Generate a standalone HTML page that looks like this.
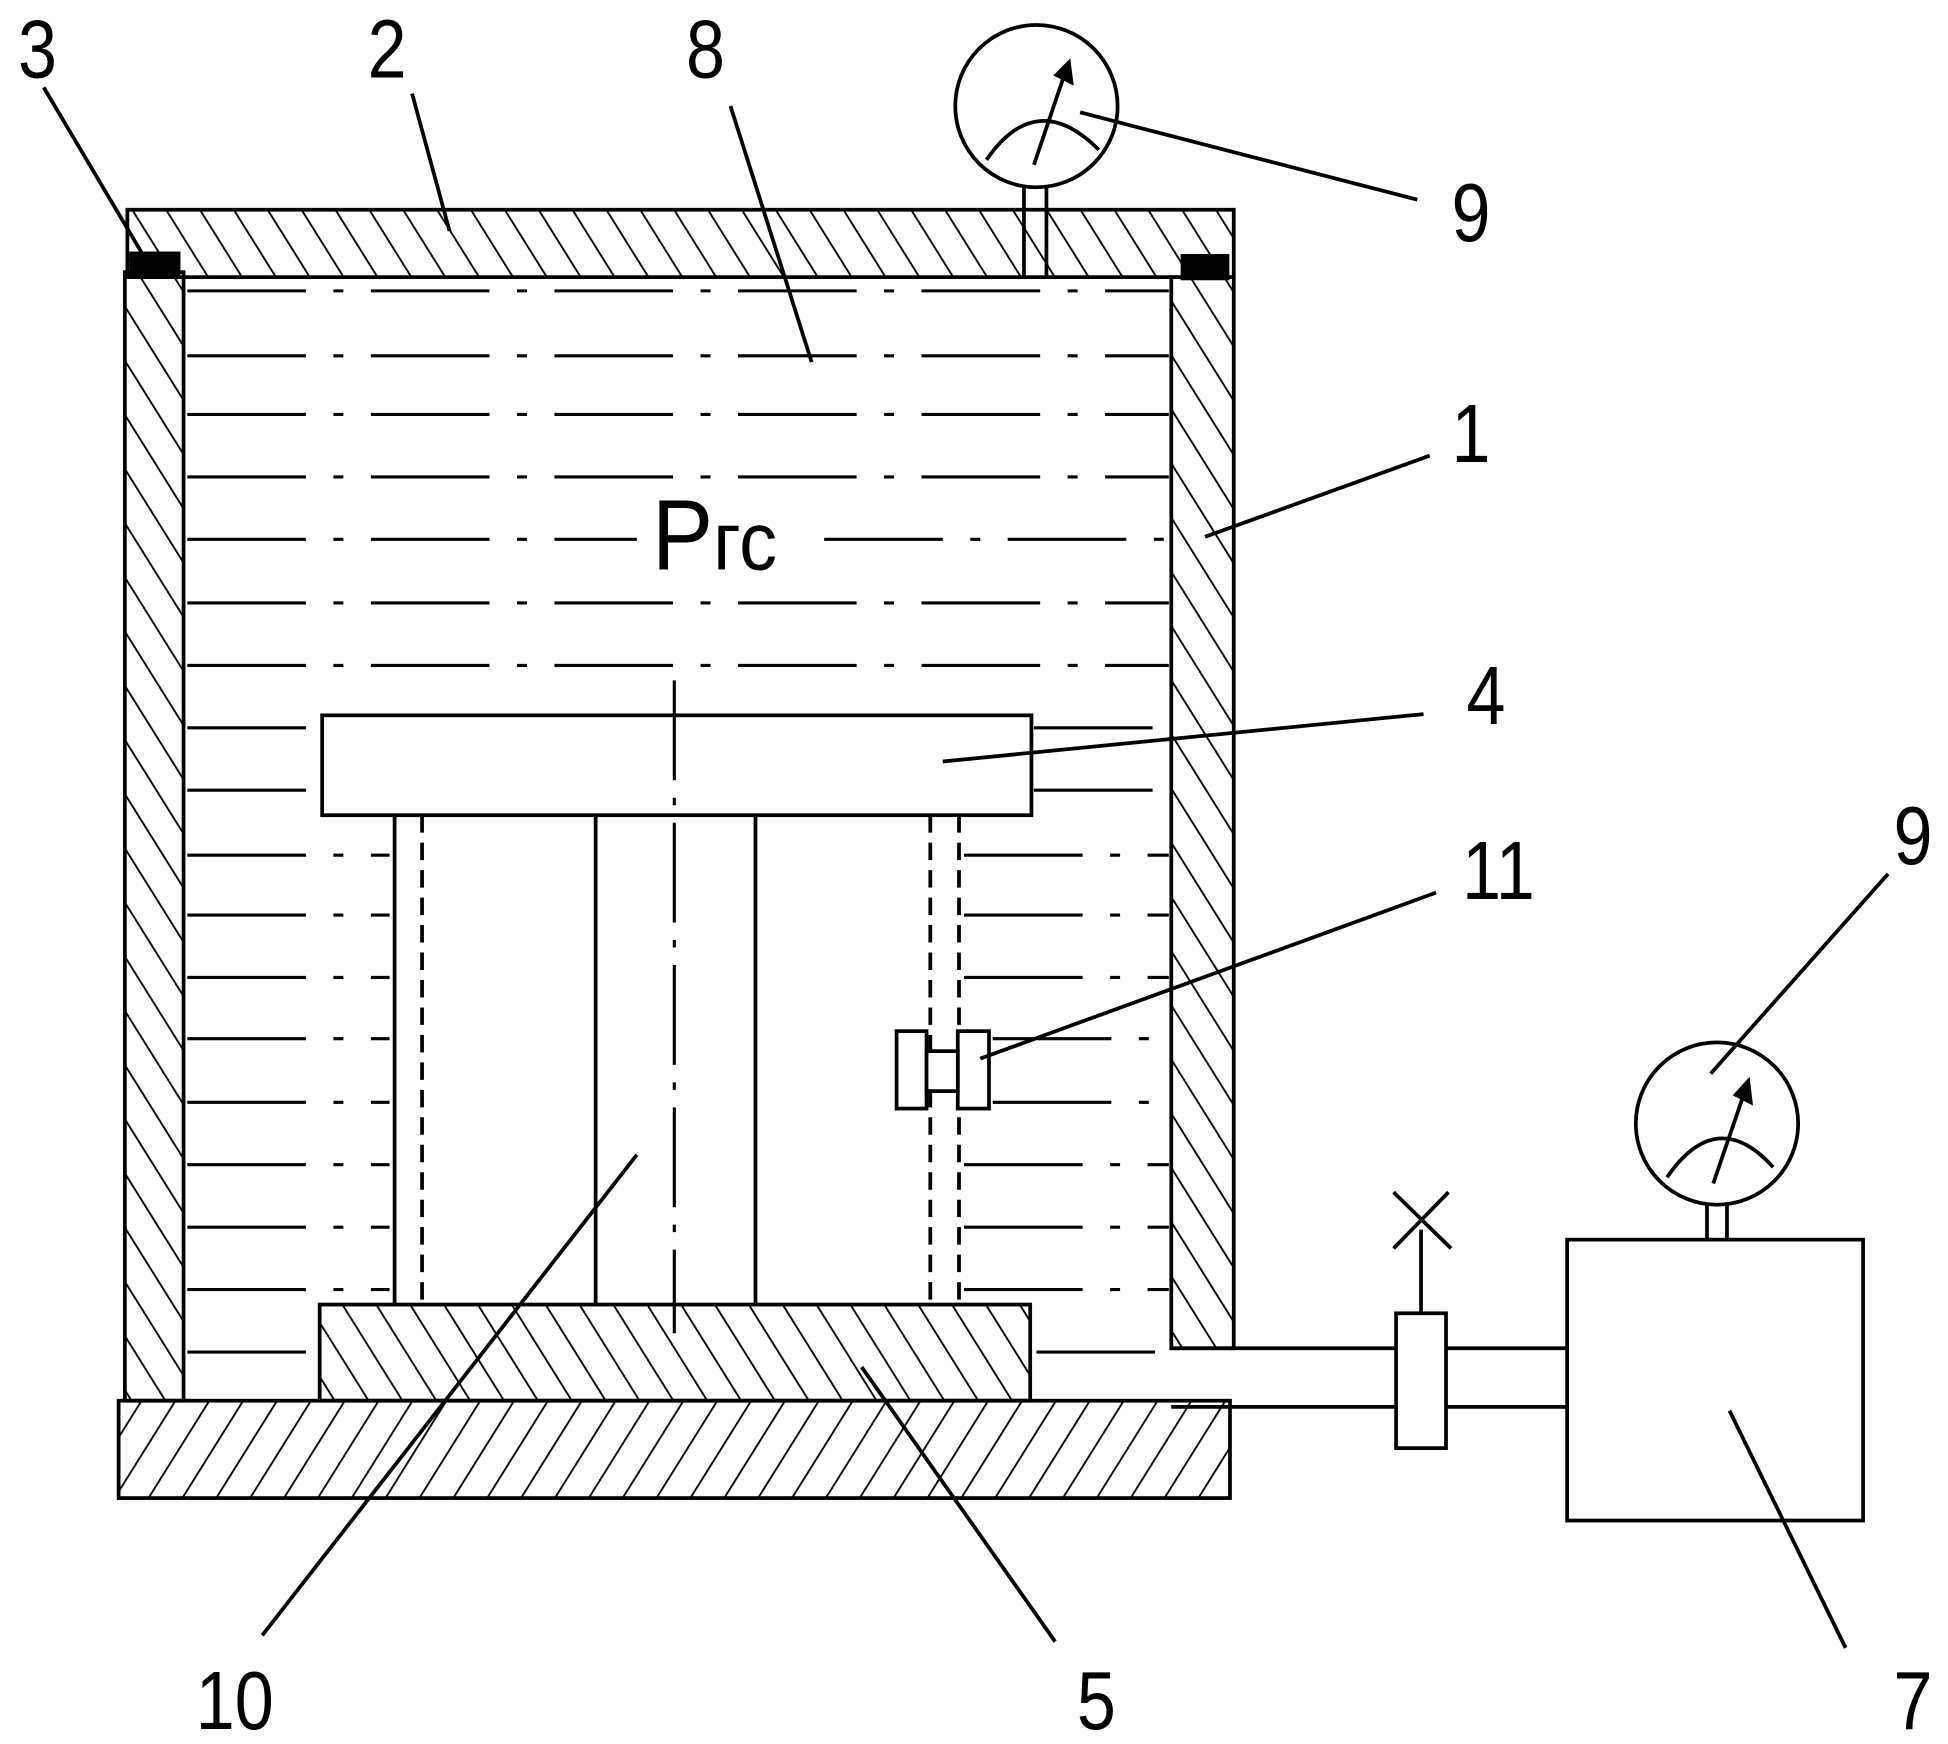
<!DOCTYPE html>
<html><head><meta charset="utf-8"><style>html,body{margin:0;padding:0;background:#fff}svg{display:block}text{font-family:"Liberation Sans",sans-serif;fill:#000}</style></head>
<body>
<svg width="1948" height="1744" viewBox="0 0 1560 1397" preserveAspectRatio="none" xmlns="http://www.w3.org/2000/svg">
<defs>
<pattern id="hb" width="23" height="23" patternUnits="userSpaceOnUse" patternTransform="rotate(-32)"><line x1="0" y1="0" x2="0" y2="23" stroke="#000" stroke-width="3"/></pattern>
<pattern id="hf" width="23" height="23" patternUnits="userSpaceOnUse" patternTransform="rotate(32)"><line x1="0" y1="0" x2="0" y2="23" stroke="#000" stroke-width="3"/></pattern>
</defs>
<g stroke="#000" stroke-width="3" fill="none">
<rect x="102" y="168" width="886" height="54" fill="url(#hb)"/>
<rect x="100" y="218" width="47" height="904" fill="url(#hb)"/>
<rect x="938" y="222" width="50" height="858" fill="url(#hb)"/>
<rect x="95" y="1122" width="890" height="78" fill="url(#hf)"/>
<rect x="256" y="1045" width="569" height="77" fill="url(#hb)"/>
<rect x="105" y="203" width="38" height="17" fill="#000"/>
<rect x="947" y="205" width="36" height="18" fill="#000"/>
<g stroke-dasharray="95 22 8 22" stroke-width="2.5">
<line x1="150" y1="233" x2="936" y2="233"/>
<line x1="150" y1="285" x2="936" y2="285"/>
<line x1="150" y1="332" x2="936" y2="332"/>
<line x1="150" y1="382" x2="936" y2="382"/>
<line x1="150" y1="432" x2="510" y2="432"/><line x1="660" y1="432" x2="936" y2="432"/>
<line x1="150" y1="483" x2="936" y2="483"/>
<line x1="150" y1="533" x2="936" y2="533"/>
<line x1="150" y1="583" x2="256" y2="583"/><line x1="828" y1="583" x2="936" y2="583"/>
<line x1="150" y1="633" x2="256" y2="633"/><line x1="828" y1="633" x2="936" y2="633"/>
<line x1="150" y1="685" x2="312" y2="685"/><line x1="772" y1="685" x2="936" y2="685"/>
<line x1="150" y1="733" x2="312" y2="733"/><line x1="772" y1="733" x2="936" y2="733"/>
<line x1="150" y1="783" x2="312" y2="783"/><line x1="772" y1="783" x2="936" y2="783"/>
<line x1="150" y1="832" x2="312" y2="832"/><line x1="795" y1="832" x2="936" y2="832"/>
<line x1="150" y1="883" x2="312" y2="883"/><line x1="795" y1="883" x2="936" y2="883"/>
<line x1="150" y1="933" x2="312" y2="933"/><line x1="772" y1="933" x2="936" y2="933"/>
<line x1="150" y1="983" x2="312" y2="983"/><line x1="772" y1="983" x2="936" y2="983"/>
<line x1="150" y1="1033" x2="312" y2="1033"/><line x1="772" y1="1033" x2="936" y2="1033"/>
<line x1="150" y1="1083" x2="254" y2="1083"/><line x1="830" y1="1083" x2="936" y2="1083"/>
</g>
<rect x="258" y="573" width="568" height="80" fill="#fff"/>
<line x1="477" y1="653" x2="477" y2="1045"/><line x1="605" y1="653" x2="605" y2="1045"/>
<line x1="316" y1="653" x2="316" y2="1045"/><line x1="338" y1="653" x2="338" y2="1045" stroke-dasharray="14 8"/>
<line x1="745" y1="653" x2="745" y2="1045" stroke-dasharray="14 8"/><line x1="768" y1="653" x2="768" y2="1045" stroke-dasharray="14 8"/>
<line x1="540" y1="545" x2="540" y2="1068" stroke-dasharray="80 14 6 14" stroke-width="2.5"/>
<rect x="718" y="826" width="24" height="62" fill="#fff"/>
<rect x="767" y="826" width="25" height="62" fill="#fff"/>
<rect x="742" y="842" width="25" height="32" fill="#fff"/>
<circle cx="830" cy="85" r="65"/>
<line x1="820" y1="150" x2="820" y2="222"/><line x1="838" y1="150" x2="838" y2="222"/>
<path d="M790 128 Q830 70 880 120"/>
<line x1="828" y1="132" x2="853" y2="58"/>
<path d="M846 60 L856 50 L858 66 Z" fill="#000"/>
<line x1="938" y1="1080" x2="1118" y2="1080"/><line x1="938" y1="1127" x2="1118" y2="1127"/>
<rect x="1118" y="1052" width="40" height="108"/>
<line x1="1158" y1="1080" x2="1255" y2="1080"/><line x1="1158" y1="1127" x2="1255" y2="1127"/>
<line x1="1138" y1="1052" x2="1138" y2="985"/>
<line x1="1116" y1="955" x2="1162" y2="1000"/><line x1="1160" y1="955" x2="1116" y2="1000"/>
<rect x="1255" y="993" width="237" height="225"/>
<circle cx="1375" cy="900" r="65"/>
<line x1="1367" y1="965" x2="1367" y2="993"/><line x1="1383" y1="965" x2="1383" y2="993"/>
<path d="M1335 943 Q1375 885 1420 935"/>
<line x1="1372" y1="948" x2="1397" y2="875"/>
<path d="M1390 877 L1400 866 L1402 883 Z" fill="#000"/>
<line x1="35" y1="70" x2="115" y2="205"/>
<line x1="330" y1="75" x2="360" y2="185"/>
<line x1="585" y1="85" x2="650" y2="290"/>
<line x1="1135" y1="160" x2="865" y2="90"/>
<line x1="1145" y1="365" x2="965" y2="430"/>
<line x1="1140" y1="572" x2="755" y2="610"/>
<line x1="1150" y1="715" x2="785" y2="848"/>
<line x1="1512" y1="700" x2="1370" y2="860"/>
<line x1="210" y1="1310" x2="510" y2="925"/>
<line x1="845" y1="1315" x2="690" y2="1095"/>
<line x1="1478" y1="1320" x2="1385" y2="1130"/>
</g>
<g font-size="66" text-anchor="middle">
<text x="30" y="62" transform="translate(30 62) scale(0.85 1) translate(-30 -62)">3</text>
<text x="310" y="62" transform="translate(310 62) scale(0.85 1) translate(-310 -62)">2</text>
<text x="565" y="62" transform="translate(565 62) scale(0.85 1) translate(-565 -62)">8</text>
<text x="1178" y="193" transform="translate(1178 193) scale(0.85 1) translate(-1178 -193)">9</text>
<text x="1178" y="370" transform="translate(1178 370) scale(0.85 1) translate(-1178 -370)">1</text>
<text x="1190" y="580" transform="translate(1190 580) scale(0.85 1) translate(-1190 -580)">4</text>
<text x="1200" y="720" transform="translate(1200 720) scale(0.85 1) translate(-1200 -720)">11</text>
<text x="1532" y="692" transform="translate(1532 692) scale(0.85 1) translate(-1532 -692)">9</text>
<text x="188" y="1385" transform="translate(188 1385) scale(0.85 1) translate(-188 -1385)">10</text>
<text x="878" y="1385" transform="translate(878 1385) scale(0.85 1) translate(-878 -1385)">5</text>
<text x="1532" y="1385" transform="translate(1532 1385) scale(0.85 1) translate(-1532 -1385)">7</text>
</g>
<text x="522" y="456" font-size="80" transform="translate(522 456) scale(0.92 1) translate(-522 -456)">P<tspan font-size="66">гс</tspan></text>
</svg>
</body></html>
